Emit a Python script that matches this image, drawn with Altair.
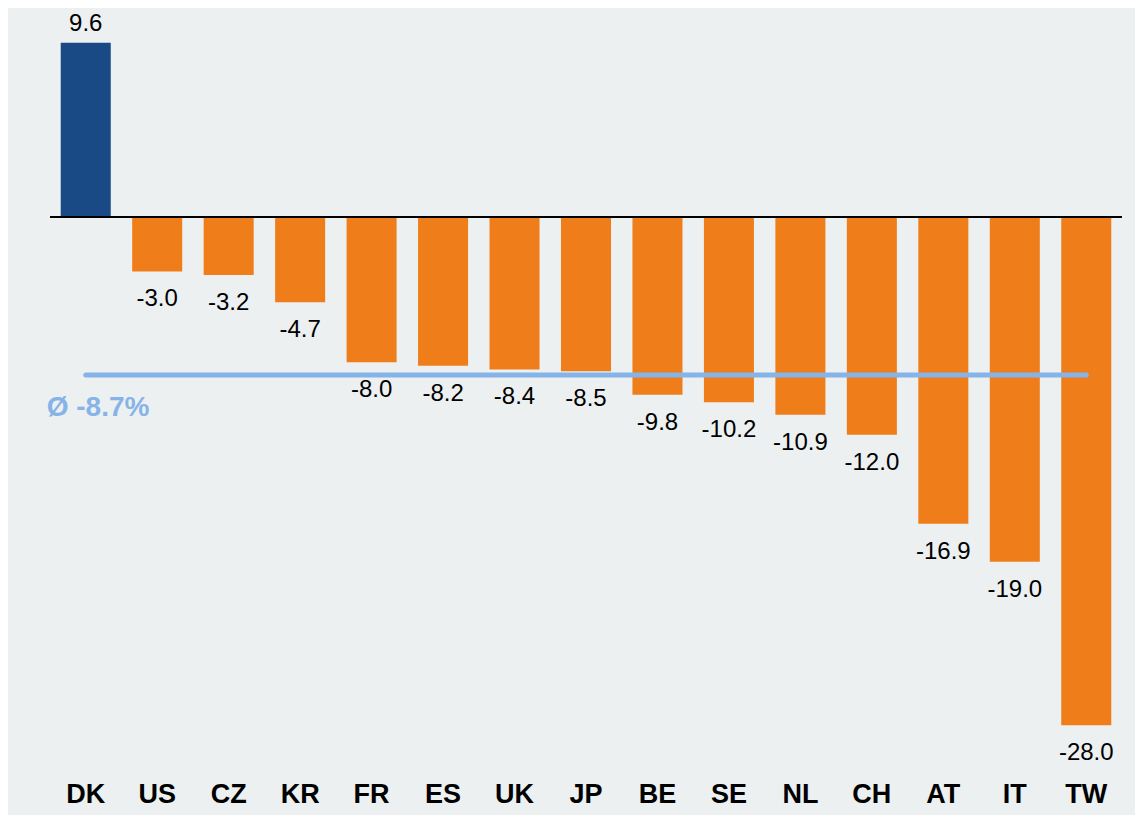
import altair as alt
import pandas as pd

countries = ["DK", "US", "CZ", "KR", "FR", "ES", "UK", "JP", "BE", "SE", "NL", "CH", "AT", "IT", "TW"]
values = [9.6, -3.0, -3.2, -4.7, -8.0, -8.2, -8.4, -8.5, -9.8, -10.2, -10.9, -12.0, -16.9, -19.0, -28.0]
average = -8.7
avg_label = "Ø -8.7%"

df = pd.DataFrame({"country": countries, "value": values})
df["label"] = [f"{v:.1f}" for v in values]
df["sign"] = ["pos" if v > 0 else "neg" for v in values]

FONT = "Liberation Sans"
BG = "#ECF0F1"
BLUE = "#194A86"
ORANGE = "#EF7E1A"
AVG = "#86B4E8"

xscale = alt.Scale(domain=countries, paddingInner=0.3, paddingOuter=0.15)
xenc = alt.X("country:N", scale=xscale,
             axis=alt.Axis(title=None, labelAngle=0, domain=False, ticks=False, tickSize=0,
                           labelFontSize=27, labelFontWeight="bold", labelColor="black",
                           labelFont=FONT, labelPadding=12))
yscale = alt.Scale(domain=[-30.413, 11.460], nice=False, zero=False)
yenc = alt.Y("value:Q", scale=yscale, axis=None)

base = alt.Chart(df)

bars = base.mark_bar().encode(
    x=xenc, y=yenc, y2=alt.datum(0),
    color=alt.Color("sign:N", scale=alt.Scale(domain=["pos", "neg"], range=[BLUE, ORANGE]), legend=None),
)

pos_text = base.transform_filter("datum.value > 0").mark_text(
    font=FONT, fontSize=24, color="black", baseline="alphabetic", dy=-12
).encode(x=alt.X("country:N", scale=xscale), y=alt.Y("value:Q", scale=yscale), text="label:N")

neg_text = base.transform_filter("datum.value <= 0").mark_text(
    font=FONT, fontSize=24, color="black", baseline="alphabetic", dy=35
).encode(x=alt.X("country:N", scale=xscale), y=alt.Y("value:Q", scale=yscale), text="label:N")

zero = alt.Chart(pd.DataFrame({"z": [0]})).mark_rule(color="black", strokeWidth=2).encode(
    y=alt.Y("z:Q", scale=yscale)
)

avg_df = pd.DataFrame({"start": [countries[0]], "end": [countries[-1]], "avg": [average], "lab": [avg_label]})
avg_line = alt.Chart(avg_df).mark_rule(color=AVG, strokeWidth=5, strokeCap="round").encode(
    x=alt.X("start:N", scale=xscale), x2="end:N", y=alt.Y("avg:Q", scale=yscale)
)
avg_text = alt.Chart(avg_df).mark_text(
    font=FONT, fontSize=28, fontWeight="bold", color=AVG, align="left", baseline="alphabetic",
    dx=-39, dy=41
).encode(x=alt.X("start:N", scale=xscale), y=alt.Y("avg:Q", scale=yscale), text="lab:N")

chart = alt.layer(bars, zero, avg_line, pos_text, neg_text, avg_text).properties(
    width=1072, height=760,
    padding={"left": 42, "right": 13, "top": 1, "bottom": 46},
    autosize=alt.AutoSizeParams(type="none"),
    background=BG,
).configure_view(stroke=None, fill=BG)

chart.save("out.html", embed_options={"renderer": "svg", "actions": False})
